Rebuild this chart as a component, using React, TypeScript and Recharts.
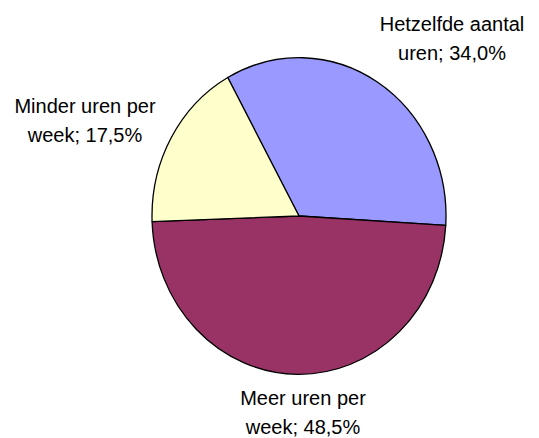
import { PieChart, Pie, Cell } from 'recharts';

const CATEGORIES = ['Hetzelfde aantal uren', 'Meer uren per week', 'Minder uren per week'];
const SHARES = [34.0, 48.5, 17.5];
const COLORS = ['#9999FF', '#993366', '#FFFFCC'];

const data = CATEGORIES.map((name, i) => ({ name, value: SHARES[i] }));

// the pie in the original is a bit taller than wide
const Y_STRETCH = 1.077;
// where each two-line label sits, relative to the pie centre
const LABEL_SPOTS = [
    [153, -185],
    [4, 189],
    [-214, -103],
];

function EllipseSector(props: any) {
    const { cx, cy, outerRadius, startAngle, endAngle, fill } = props;
    const rx = outerRadius;
    const ry = outerRadius * Y_STRETCH;
    const pt = (a: number) => {
        const r = (a * Math.PI) / 180;
        return [cx + rx * Math.cos(r), cy - ry * Math.sin(r)];
    };
    const [x0, y0] = pt(startAngle);
    const [x1, y1] = pt(endAngle);
    const large = Math.abs(endAngle - startAngle) > 180 ? 1 : 0;
    const sweep = startAngle > endAngle ? 1 : 0;
    return (
        <path
            d={`M${cx},${cy}L${x0},${y0}A${rx},${ry} 0 ${large} ${sweep} ${x1},${y1}Z`}
            fill={fill}
            stroke="#000"
            strokeWidth={1.3}
            strokeLinejoin="round"
        />
    );
}

function renderLabel(props: any) {
    const { cx, cy, index } = props;
    const name: string = props.name ?? CATEGORIES[index];
    const value: number = props.value ?? SHARES[index];
    const words = name.split(' ');
    const line1 = words.slice(0, -1).join(' ');
    const line2 = `${words[words.length - 1]}; ${value.toFixed(1).replace('.', ',')}%`;
    const [dx, dy] = LABEL_SPOTS[index];
    return (
        <text
            x={cx + dx}
            y={cy + dy}
            textAnchor="middle"
            fill="#000"
            fontSize={20}
            fontFamily="'Liberation Sans', Arial, sans-serif"
        >
            <tspan x={cx + dx}>{line1}</tspan>
            <tspan x={cx + dx} dy={29}>{line2}</tspan>
        </text>
    );
}

export default function App() {
    return (
        <div style={{ position: 'absolute', left: 0, top: 0, width: 539, height: 438, background: '#fff' }}>
            <PieChart width={539} height={438} margin={{ top: 0, right: 0, bottom: 0, left: 0 }}>
                <Pie
                    data={data}
                    dataKey="value"
                    nameKey="name"
                    cx={299}
                    cy={216}
                    outerRadius={147}
                    startAngle={119}
                    endAngle={-241}
                    stroke="#000"
                    isAnimationActive={false}
                    label={renderLabel}
                    labelLine={false}
                    shape={EllipseSector}
                >
                    {data.map((_entry, index) => (
                        <Cell key={`cell-${index}`} fill={COLORS[index % COLORS.length]} />
                    ))}
                </Pie>
            </PieChart>
        </div>
    );
}
